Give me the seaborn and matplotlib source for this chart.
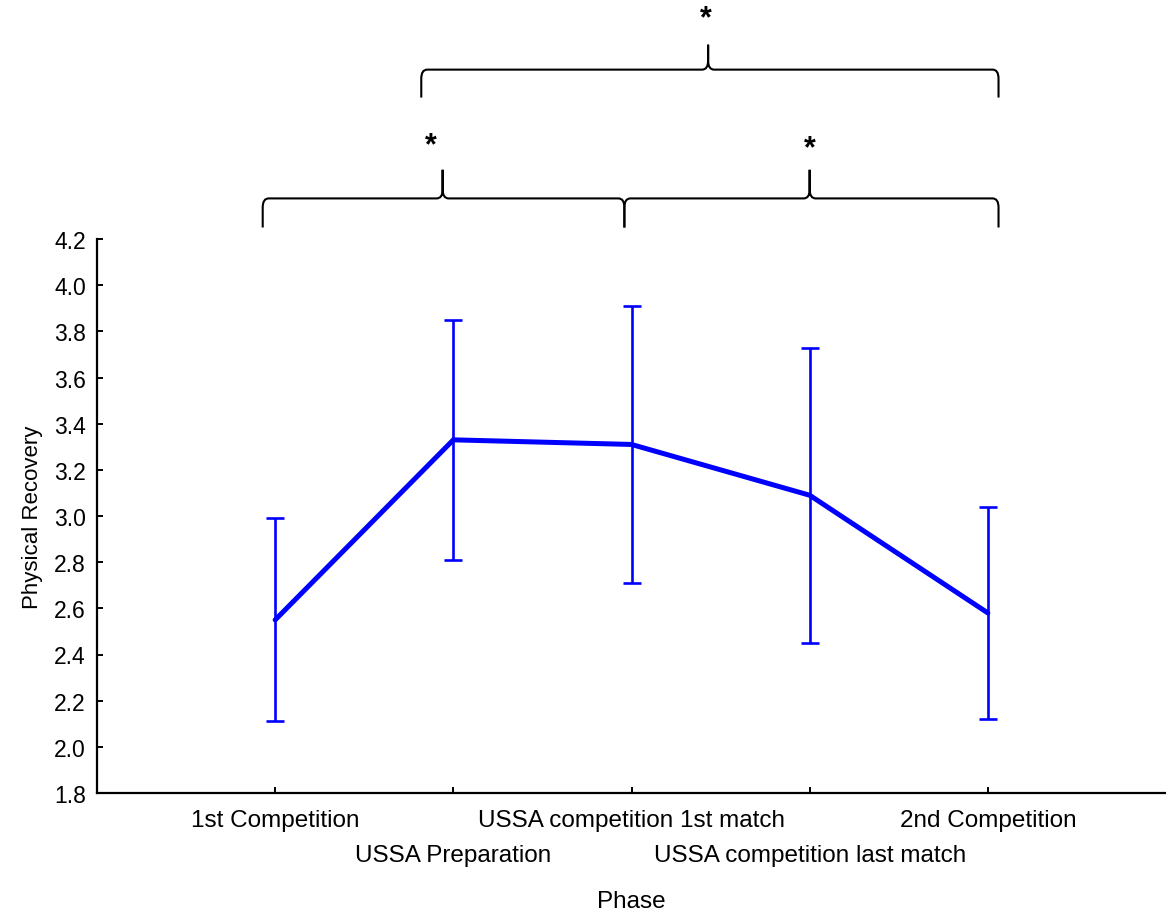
import numpy as np
import pandas as pd
import seaborn as sns
import matplotlib.pyplot as plt
from matplotlib.path import Path
from matplotlib.patches import PathPatch

phases = ["1st Competition", "USSA Preparation", "USSA competition 1st match",
          "USSA competition last match", "2nd Competition"]
means = [2.55, 3.33, 3.31, 3.09, 2.58]
errors = [0.44, 0.52, 0.60, 0.64, 0.46]
ytick_values = [1.8, 2.0, 2.2, 2.4, 2.6, 2.8, 3.0, 3.2, 3.4, 3.6, 3.8, 4.0, 4.2]

sns.set_theme(style="white")
plt.rcParams["font.family"] = ["Liberation Sans", "DejaVu Sans"]

fig = plt.figure(figsize=(11.66, 9.12), dpi=100)
ax = fig.add_axes([0.0832, 0.1294, 0.9168, 0.6074])

df = pd.DataFrame({"Phase": phases, "Mean": means})
pos = np.arange(len(phases))
sns.lineplot(x=pos, y=df["Mean"], ax=ax, color="#0000FF", lw=3.6,
             solid_joinstyle="miter", zorder=3)
ax.errorbar(pos, means, yerr=errors, fmt="none", ecolor="#0000FF",
            elinewidth=1.9, capsize=6.2, capthick=1.9, zorder=2)

ax.set_xlim(-1, 5)
ax.set_ylim(1.8, 4.2)
ax.set_yticks(ytick_values)
ax.set_yticklabels([f"{v:.1f}" for v in ytick_values])
ax.set_xticks(pos)
ax.set_xticklabels(phases)

for s in ["top", "right"]:
    ax.spines[s].set_visible(False)
for s in ["left", "bottom"]:
    ax.spines[s].set_color("black")
    ax.spines[s].set_linewidth(1.6)
ax.tick_params(axis="both", direction="in", length=4, width=1.4, color="black",
               labelcolor="black", left=True, bottom=True)
ax.tick_params(axis="x", labelsize=17.5, pad=11.5)
ax.tick_params(axis="y", labelsize=16.5, pad=8)

# stagger every second phase label onto a lower row
for i, lab in enumerate(ax.get_xticklabels()):
    if i % 2 == 1:
        lab.set_y(-0.0632)

ax.set_xlabel("Phase", fontsize=17.5, color="black", labelpad=17)
ax.set_ylabel("Physical Recovery", fontsize=16, color="black", labelpad=8)


def brace(ax, x0, x1, xm, y_base, y_bar, y_tip, rx=6, ry=9):
    """Curly bracket between x0 and x1 with a point at xm."""
    to_disp = ax.transData.transform
    X0, Yb = to_disp((x0, y_base))
    X1, _ = to_disp((x1, y_base))
    Xm, Yh = to_disp((xm, y_bar))
    _, Yt = to_disp((xm, y_tip))
    verts = [
        (X0, Yb), (X0, Yh - ry), (X0, Yh), (X0 + rx, Yh),
        (Xm - rx, Yh), (Xm, Yh), (Xm, Yh + ry), (Xm, Yt),
        (Xm, Yh + ry), (Xm, Yh), (Xm + rx, Yh),
        (X1 - rx, Yh), (X1, Yh), (X1, Yh - ry), (X1, Yb),
    ]
    codes = [
        Path.MOVETO, Path.LINETO, Path.CURVE3, Path.CURVE3,
        Path.LINETO, Path.CURVE3, Path.CURVE3, Path.LINETO,
        Path.LINETO, Path.CURVE3, Path.CURVE3,
        Path.LINETO, Path.CURVE3, Path.CURVE3, Path.LINETO,
    ]
    data_verts = ax.transData.inverted().transform(verts)
    patch = PathPatch(Path(data_verts, codes), fill=False, lw=1.5,
                      edgecolor="black", clip_on=False, transform=ax.transData)
    ax.add_patch(patch)


brace(ax, -0.07, 1.96, 0.94, 4.25, 4.376, 4.50)
brace(ax, 1.96, 4.06, 3.00, 4.25, 4.376, 4.50)
brace(ax, 0.82, 4.06, 2.43, 4.813, 4.934, 5.042)

star_kw = dict(ha="center", va="center", fontsize=22, fontweight="bold",
               color="black", clip_on=False)
ax.text(0.875, 4.605, "*", **star_kw)
ax.text(3.00, 4.592, "*", **star_kw)
ax.text(2.415, 5.155, "*", **star_kw)

fig.savefig("out.png", dpi=100)
